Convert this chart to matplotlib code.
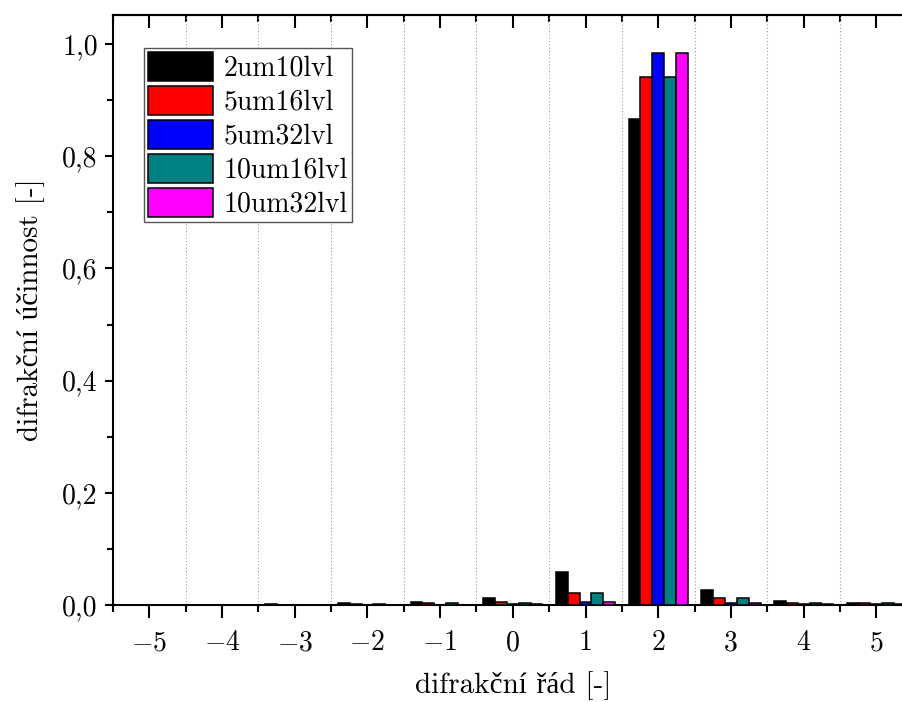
import numpy as np
import matplotlib
matplotlib.use('Agg')
import matplotlib.pyplot as plt
from matplotlib.ticker import MultipleLocator, FixedLocator

plt.rcParams['font.family'] = ['cmr10', 'Liberation Serif']
plt.rcParams['mathtext.fontset'] = 'cm'
plt.rcParams['axes.formatter.use_mathtext'] = True

# data
orders = [-5, -4, -3, -2, -1, 0, 1, 2, 3, 4, 5]
order_labels = ['$-5$', '$-4$', '$-3$', '$-2$', '$-1$', '0', '1', '2', '3', '4', '5']
names = ['2um10lvl', '5um16lvl', '5um32lvl', '10um16lvl', '10um32lvl']
colors = ['#000000', '#ff0000', '#0000ff', '#008080', '#ff00ff']

eff_2um10 = [0.0003, 0.0006, 0.002, 0.003, 0.005, 0.012, 0.059, 0.866, 0.026, 0.007, 0.004]
eff_5um16 = [0.0001, 0.0002, 0.0005, 0.001, 0.003, 0.005, 0.022, 0.942, 0.012, 0.004, 0.003]
eff_5um32 = [0.0001, 0.0001, 0.0002, 0.0003, 0.0005, 0.001, 0.005, 0.985, 0.003, 0.001, 0.001]
eff_10um16 = [0.0001, 0.0002, 0.0005, 0.001, 0.003, 0.004, 0.022, 0.942, 0.012, 0.004, 0.003]
eff_10um32 = [0.0001, 0.0001, 0.0002, 0.0003, 0.0005, 0.001, 0.006, 0.985, 0.004, 0.001, 0.001]
series = [eff_2um10, eff_5um16, eff_5um32, eff_10um16, eff_10um32]

fig = plt.figure(figsize=(9.03, 7.02), dpi=100)
ax = fig.add_axes([113/903, 1-605/702, 799.7/903, 590/702])

x = np.array(orders)
w = 0.163
for i, (vals, name, c) in enumerate(zip(series, names, colors)):
    ax.bar(x + (i-2)*w, vals, width=w, color=c, edgecolor='black', linewidth=1.1,
           label=name, zorder=3)

ax.set_xlim(-5.5, 5.5)
ax.set_ylim(0, 1.052)
ax.set_xticks(orders)
ax.set_xticklabels(order_labels)
ax.xaxis.set_minor_locator(FixedLocator(np.arange(-5.5, 5.6, 1.0)))
yt = np.arange(0, 1.01, 0.2)
ax.set_yticks(yt)
ax.set_yticklabels([('%.1f' % v).replace('.', ',') for v in yt])
ax.yaxis.set_minor_locator(MultipleLocator(0.1))

ax.grid(axis='x', which='minor', linestyle=(0, (1, 2)), color='#999999', linewidth=0.8, zorder=0)

for s in ax.spines.values():
    s.set_linewidth(1.5)
ax.tick_params(axis='x', which='major', direction='out', length=9, width=1.5, labelsize=20, pad=9)
ax.tick_params(axis='x', which='minor', direction='out', length=5, width=1.5)
ax.tick_params(axis='y', which='major', direction='out', length=6, width=1.5, labelsize=20, pad=5)
ax.tick_params(axis='y', which='minor', direction='out', length=4, width=1.5)

top = ax.secondary_xaxis('top')
top.set_xticks(orders)
top.xaxis.set_minor_locator(FixedLocator(np.arange(-5.5, 5.6, 1.0)))
top.tick_params(which='major', direction='in', length=9, width=1.5, labeltop=False)
top.tick_params(which='minor', direction='in', length=5, width=1.5)
top.spines['top'].set_linewidth(1.5)

ax.set_xlabel('difrakční řád [-]', fontsize=21, labelpad=11)
ax.set_ylabel('difrakční účinnost [-]', fontsize=21, labelpad=12)

leg = ax.legend(loc='upper left', bbox_to_anchor=(0.0388, 0.944), borderaxespad=0,
                fontsize=20, handlelength=2.35, handleheight=1.22, labelspacing=0.15,
                handletextpad=0.35, borderpad=0.15, fancybox=False, framealpha=1)
leg.get_frame().set_edgecolor('#555555')
leg.get_frame().set_linewidth(1.0)

fig.savefig('out.png', dpi=100)
